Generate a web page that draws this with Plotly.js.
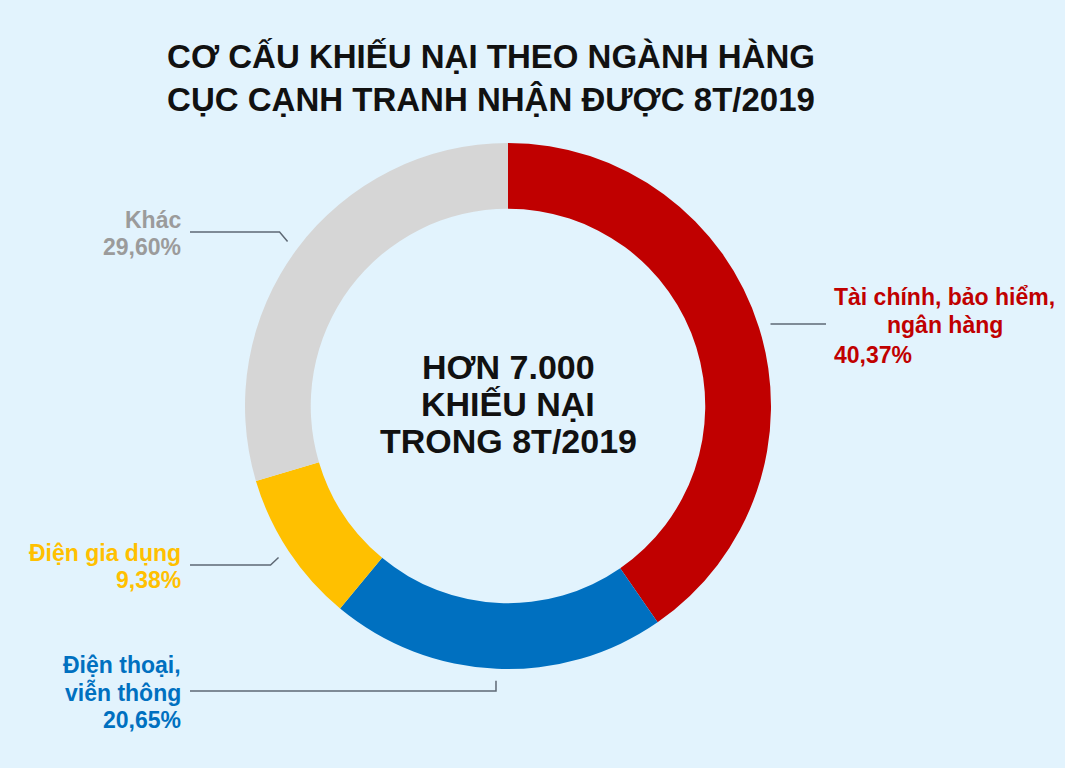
<!DOCTYPE html>
<html>
<head>
<meta charset="utf-8">
<script src="https://cdn.plot.ly/plotly-3.0.1.min.js"></script>
<style>html,body{margin:0;padding:0;background:#E2F3FD;}#chart{width:1065px;height:768px;}</style>
</head>
<body>
<div id="chart"></div>
<script>
// Data
const categories = ['Tài chính, bảo hiểm, ngân hàng', 'Điện thoại, viễn thông', 'Điện gia dụng', 'Khác'];
const labelLines = [['Tài chính, bảo hiểm,', 'ngân hàng'], ['Điện thoại,', 'viễn thông'], ['Điện gia dụng'], ['Khác']];
const shares = [40.37, 20.65, 9.38, 29.60];
const shareLabels = ['40,37%', '20,65%', '9,38%', '29,60%'];
const centerLines = ['HƠN 7.000', 'KHIẾU NẠI', 'TRONG 8T/2019'];
const titleText = 'CƠ CẤU KHIẾU NẠI THEO NGÀNH HÀNG<br>CỤC CẠNH TRANH NHẬN ĐƯỢC 8T/2019';
const colors = ['#C00000', '#0070C0', '#FFC000', '#D6D6D6'];
const labelColors = ['#C00000', '#0070C0', '#FFC000', '#9B9B9B'];

const W = 1065, H = 768;
const cx = 508, cy = 406, R = 263;
const px = x => x / W;
const py = y => 1 - y / H;
const font = 'Liberation Sans, Arial, sans-serif';

// leader-line layout (pixels): horizontal line y, end x, elbow offset
const lineY = [null, 691, 565, 232];
const lineEndX = [826, 190, 190, 190];
const elbowDx = [0, 0, 8, 8];

const total = shares.reduce((a, b) => a + b, 0);
const shapes = [];
let cum = 0;
shares.forEach((v, i) => {
  const mid = (cum + v / 2) / total * 2 * Math.PI;
  cum += v;
  const r = 275;
  const sx = cx + r * Math.sin(mid), sy = cy - r * Math.cos(mid);
  const hy = lineY[i] === null ? sy : lineY[i];
  const side = Math.sin(mid) >= 0 ? 1 : -1;
  const ex = sx + side * elbowDx[i];
  shapes.push({
    type: 'path', xref: 'paper', yref: 'paper',
    path: `M ${px(sx)} ${py(sy)} L ${px(ex)} ${py(hy)} L ${px(lineEndX[i])} ${py(hy)}`,
    line: {color: '#5E6874', width: 1.5}
  });
});

const annotations = [];
function addText(text, x, y, xanchor, size, color) {
  annotations.push({x: px(x), y: py(y), xref: 'paper', yref: 'paper', showarrow: false,
    xanchor: xanchor, yanchor: 'middle', text: text,
    font: {family: font, size: size, color: color, weight: 700}});
}
// centre text
const centerY = [367, 404, 441];
centerLines.forEach((t, k) => addText(t, cx, centerY[k], 'center', 34, '#111111'));

// slice labels: row positions (pixels)
// Tài chính
addText(labelLines[0][0], 944, 297, 'center', 23, labelColors[0]);
addText(labelLines[0][1], 945, 325, 'center', 23, labelColors[0]);
addText(shareLabels[0], 832, 355, 'left', 23, labelColors[0]);
// left-hand labels (right aligned)
const leftRows = {1: [665, 692, 720], 2: [553, 580], 3: [220, 247]};
[1, 2, 3].forEach(i => {
  const lines = labelLines[i].concat([shareLabels[i]]);
  lines.forEach((t, k) => addText(t, 182.5, leftRows[i][k], 'right', 23, labelColors[i]));
});

const trace = {
  type: 'pie', labels: categories, values: shares,
  marker: {colors: colors, line: {width: 0}},
  hole: 0.75, sort: false, direction: 'clockwise', rotation: 0,
  textinfo: 'none', hoverinfo: 'skip', showlegend: false,
  domain: {x: [px(cx - R), px(cx + R)], y: [py(cy + R), py(cy - R)]}
};

const layout = {
  width: W, height: H,
  margin: {l: 0, r: 0, t: 0, b: 0},
  paper_bgcolor: '#E2F3FD', plot_bgcolor: '#E2F3FD',
  title: {text: titleText,
          x: 491 / W, xanchor: 'center', y: 1 - 68 / H, yanchor: 'middle', xref: 'container', yref: 'container',
          font: {family: font, size: 33, color: '#111111', weight: 700}},
  shapes: shapes, annotations: annotations
};

Plotly.newPlot('chart', [trace], layout, {displayModeBar: false, staticPlot: true});
</script>
</body>
</html>
